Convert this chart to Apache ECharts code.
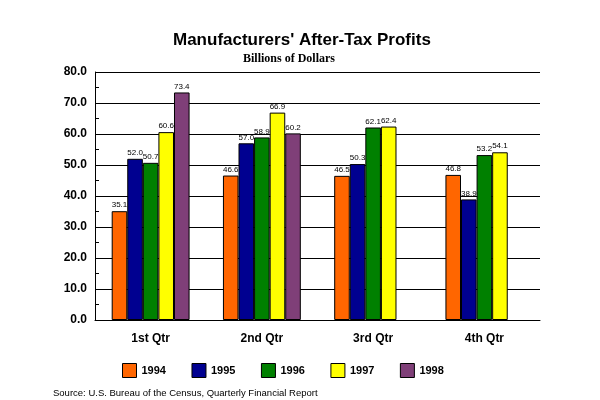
<!DOCTYPE html>
<html>
<head>
<meta charset="utf-8">
<script src="https://cdn.jsdelivr.net/npm/echarts@6/dist/echarts.min.js"></script>
<style>html,body{margin:0;padding:0;background:#fff}#c{width:600px;height:400px}</style>
</head>
<body>
<div id="c"></div>
<script>
const categories = ['1st Qtr', '2nd Qtr', '3rd Qtr', '4th Qtr'];
const years = ['1994', '1995', '1996', '1997', '1998'];
const v1994 = [35.1, 46.6, 46.5, 46.8];
const v1995 = [52.0, 57.0, 50.3, 38.9];
const v1996 = [50.7, 58.9, 62.1, 53.2];
const v1997 = [60.6, 66.9, 62.4, 54.1];
const v1998 = [73.4, 60.2, null, null];
const colors = ['#FF6600', '#000090', '#008000', '#FFFF00', '#7F3F78'];
const yTicks = [0, 10, 20, 30, 40, 50, 60, 70, 80];

const seriesValues = [v1994, v1995, v1996, v1997, v1998];
const chart = echarts.init(document.getElementById('c'));
chart.setOption({
  backgroundColor: '#fff',
  animation: false,
  title: [{
    text: "Manufacturers' After-Tax Profits",
    left: 168,
    top: 27,
    textStyle: { fontFamily: 'Liberation Sans, Arial', fontWeight: 'bold', fontSize: 17, color: '#000' }
  }, {
    text: 'Billions of Dollars',
    left: 238,
    top: 48,
    textStyle: { fontFamily: 'Liberation Serif, Times New Roman', fontWeight: 'bold', fontSize: 12, color: '#000' }
  }],
  legend: {
    data: years,
    left: 117,
    top: 358,
    itemWidth: 14,
    itemHeight: 14,
    itemGap: 25.5,
    itemTextGap: 14,
    icon: 'rect',
    itemStyle: { borderColor: '#000', borderWidth: 1 },
    textStyle: { fontFamily: 'Liberation Sans, Arial', fontWeight: 'bold', fontSize: 11, color: '#000' }
  },
  grid: { left: 95, right: 60, top: 72, bottom: 80 },
  xAxis: {
    type: 'category',
    data: categories,
    axisLine: { lineStyle: { color: '#000', width: 1 } },
    axisTick: { alignWithLabel: true, length: 7, lineStyle: { color: '#000' } },
    axisLabel: { margin: 13, fontFamily: 'Liberation Sans, Arial', fontWeight: 'bold', fontSize: 12, color: '#000' }
  },
  yAxis: {
    type: 'value',
    min: yTicks[0],
    max: yTicks[yTicks.length - 1],
    interval: 10,
    axisLine: { show: true, lineStyle: { color: '#000', width: 1 } },
    axisTick: { show: false, inside: true },
    minorTick: { show: true, splitNumber: 2, length: 4, lineStyle: { color: '#000' } },
    splitLine: { show: true, lineStyle: { color: '#000', width: 1 } },
    axisLabel: { margin: 8, formatter: v => v.toFixed(1), fontFamily: 'Liberation Sans, Arial', fontWeight: 'bold', fontSize: 12, color: '#000' }
  },
  series: years.map((y, i) => ({
    name: y,
    type: 'bar',
    data: seriesValues[i],
    barGap: '0%',
    barCategoryGap: '30%',
    itemStyle: { color: colors[i], borderColor: '#000', borderWidth: 1 },
    label: {
      show: true, position: 'top', distance: 2,
      formatter: p => p.value == null ? '' : Number(p.value).toFixed(1),
      fontFamily: 'Liberation Sans, Arial', fontSize: 8, color: '#000'
    }
  })),
  graphic: [{
    type: 'text', left: 53, top: 388,
    style: { text: 'Source: U.S. Bureau of the Census, Quarterly Financial Report', fontFamily: 'Liberation Sans, Arial', fontSize: 9.5, fill: '#000' }
  }]
});
</script>
</body>
</html>
